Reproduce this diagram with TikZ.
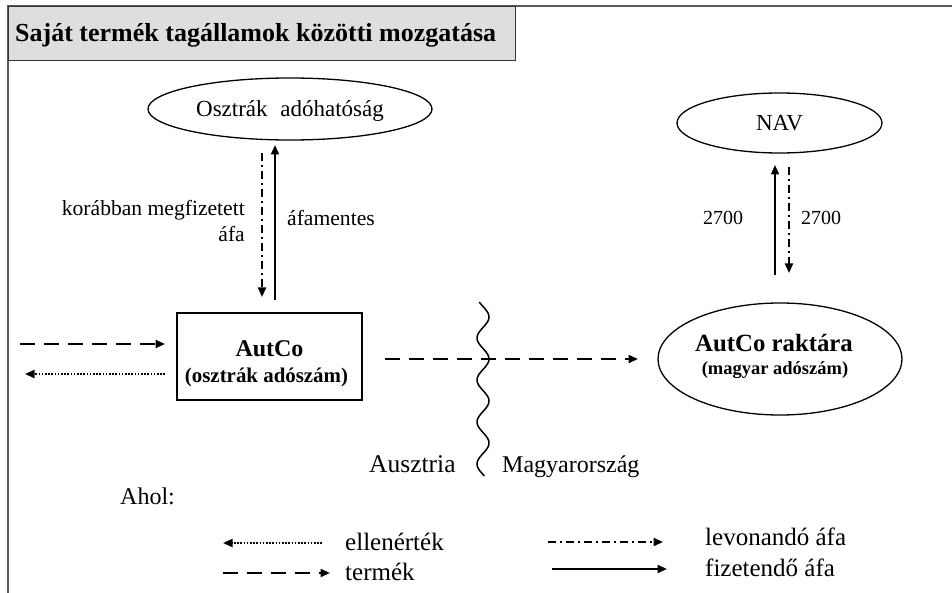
\documentclass[tikz,border=0pt]{standalone}
\usepackage{fontspec}
\setmainfont{Liberation Serif}
\usetikzlibrary{shapes.geometric,arrows.meta}
\tikzset{
  ell/.style={draw, ellipse, line width=1.3pt, inner sep=0pt},
  boxnode/.style={draw, rectangle, line width=1.3pt, inner sep=0pt},
  txt/.style={inner sep=0pt, anchor=base},
  tip/.style={-{Triangle[length=9.5pt,width=8pt]}},
  solidarr/.style={tip, line width=2pt},
  dasharr/.style={tip, line width=2pt, dash pattern=on 15pt off 9pt},
  dotarr/.style={tip, line width=2pt, dash pattern=on 1.6pt off 1.6pt},
  dotdasharr/.style={tip, line width=2pt, dash pattern=on 8pt off 4pt on 2pt off 4pt},
  fA/.style={font=\fontsize{21.6}{26}\selectfont},
  fB/.style={font=\fontsize{25}{30}\selectfont},
}
\begin{document}
\begin{tikzpicture}[x=1pt,y=-1pt]
\useasboundingbox (0,0) rectangle (952,593);
% frame
\draw[line width=1.6pt, draw=black!65] (952,6) -- (8,6) -- (8,593);
% title box
\node[draw=black!80, fill=black!13, line width=1.4pt, minimum width=507pt, minimum height=54pt, anchor=north west, inner sep=0pt] (titlebox) at (8,6) {};
\node[txt, anchor=base west, font=\bfseries\fontsize{26}{30}\selectfont] (title) at (15,42) {Saját termék tagállamok közötti mozgatása};

% Austrian tax authority
\node[ell, minimum width=284pt, minimum height=62pt] (osz) at (290,109) {};
\node[txt, font=\fontsize{23}{28}\selectfont] (osztxt) at (290,117) {Osztrák\hspace{0.55em}adóhatóság};

% NAV
\node[ell, minimum width=205pt, minimum height=60pt] (nav) at (779.5,123) {};
\node[txt, font=\fontsize{23}{28}\selectfont] (navtxt) at (779.5,131) {NAV};

% AutCo box
\node[boxnode, minimum width=185pt, minimum height=87pt] (autco) at (269.5,356.5) {};
\node[txt, font=\bfseries\fontsize{24}{28}\selectfont] (autco1) at (269.5,356) {AutCo};
\node[txt, font=\bfseries\fontsize{20.9}{25}\selectfont] (autco2) at (266.5,382) {(osztrák adószám)};

% AutCo warehouse
\node[ell, minimum width=244pt, minimum height=112pt] (rakt) at (780,359) {};
\node[txt, font=\bfseries\fontsize{24.8}{29}\selectfont] (rakt1) at (774,351) {AutCo raktára};
\node[txt, font=\bfseries\fontsize{18.5}{22}\selectfont] (rakt2) at (775,374) {(magyar adószám)};

% coordinates for connectors
\coordinate (oszdd1) at (262,153);
\coordinate (oszdd2) at (262,297);
\coordinate (oszs1) at (275,300);
\coordinate (oszs2) at (275,145);
\coordinate (navs1) at (775,275);
\coordinate (navs2) at (775,165);
\coordinate (navdd1) at (789,167);
\coordinate (navdd2) at (789,273);
\coordinate (in1) at (20,344);
\coordinate (in2) at (165,344);
\coordinate (out1) at (165,374);
\coordinate (out2) at (25,374);
\coordinate (mv1) at (385,359);
\coordinate (mv2) at (638,359);

\draw[dotdasharr] (oszdd1) -- (oszdd2);
\draw[solidarr] (oszs1) -- (oszs2);
\draw[solidarr] (navs1) -- (navs2);
\draw[dotdasharr] (navdd1) -- (navdd2);
\draw[dasharr] (in1) -- (in2);
\draw[dotarr] (out1) -- (out2);
\draw[dasharr] (mv1) -- (mv2);

% labels of vertical arrows
\node[txt, anchor=base east, fA] (lab1) at (245,216) {korábban megfizetett};
\node[txt, anchor=base east, fA] (lab2) at (245,242) {áfa};
\node[txt, anchor=base west, fA] (lab3) at (287,226) {áfamentes};
\node[txt, font=\fontsize{20}{24}\selectfont] (n1) at (723,225) {2700};
\node[txt, font=\fontsize{20}{24}\selectfont] (n2) at (821,225) {2700};

% border wave
\draw[line width=1.5pt] plot[variable=\t, domain=302:476, samples=140, smooth] ({483+6*cos((\t-359)*8.5714)},{\t});
\node[txt, anchor=base west, font=\fontsize{25.5}{30}\selectfont] (aus) at (369,472) {Ausztria};
\node[txt, anchor=base west, font=\fontsize{24}{29}\selectfont] (hun) at (502,472) {Magyarország};

% legend
\node[txt, anchor=base west, font=\fontsize{24}{29}\selectfont] (ahol) at (120,504) {Ahol:};
\coordinate (lg1a) at (322,543);
\coordinate (lg1b) at (223,543);
\coordinate (lg2a) at (223,573);
\coordinate (lg2b) at (330,573);
\coordinate (lg3a) at (548,542);
\coordinate (lg3b) at (663,542);
\coordinate (lg4a) at (552,569);
\coordinate (lg4b) at (667,569);
\draw[dotarr] (lg1a) -- (lg1b);
\draw[dasharr] (lg2a) -- (lg2b);
\draw[dotdasharr] (lg3a) -- (lg3b);
\draw[solidarr] (lg4a) -- (lg4b);
\node[txt, anchor=base west, fB] (lt1) at (345,550) {ellenérték};
\node[txt, anchor=base west, fB] (lt2) at (345,580) {termék};
\node[txt, anchor=base west, fB] (lt3) at (705,545) {levonandó áfa};
\node[txt, anchor=base west, fB] (lt4) at (705,576) {fizetendő áfa};
\end{tikzpicture}
\end{document}
